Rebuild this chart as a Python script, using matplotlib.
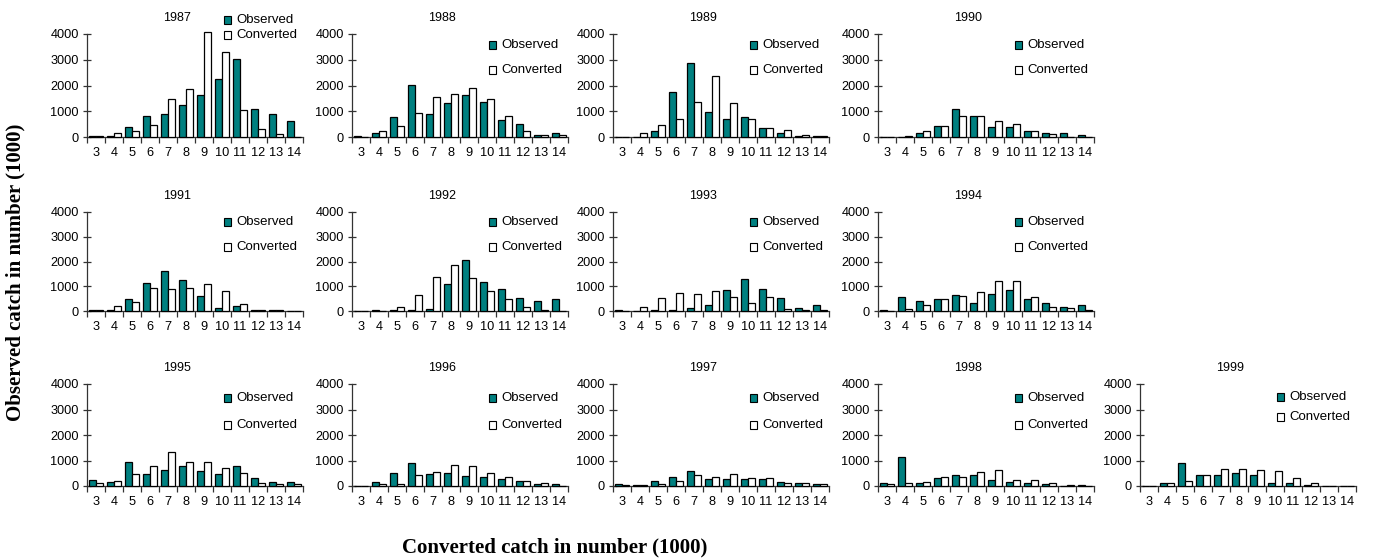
import matplotlib
matplotlib.use("Agg")
import matplotlib.pyplot as plt
from matplotlib.patches import Rectangle

plt.rcParams['font.family'] = ['Liberation Sans', 'DejaVu Sans']

ages = [3, 4, 5, 6, 7, 8, 9, 10, 11, 12, 13, 14]

obs_1987 = [50, 50, 380, 830, 880, 1250, 1620, 2250, 3040, 1100, 900, 640]
conv_1987 = [30, 150, 250, 470, 1470, 1880, 4080, 3300, 1050, 310, 100, 0]
obs_1988 = [40, 150, 770, 2020, 890, 1320, 1620, 1370, 670, 500, 90, 160]
conv_1988 = [10, 220, 410, 940, 1560, 1670, 1920, 1460, 800, 240, 90, 60]
obs_1989 = [0, 0, 250, 1730, 2880, 960, 700, 790, 350, 150, 40, 40]
conv_1989 = [0, 150, 450, 700, 1370, 2380, 1320, 700, 350, 290, 80, 40]
obs_1990 = [0, 0, 150, 430, 1100, 800, 400, 400, 250, 170, 150, 60]
conv_1990 = [0, 50, 250, 430, 800, 800, 620, 520, 230, 120, 0, 0]
obs_1991 = [50, 50, 500, 1150, 1600, 1270, 610, 120, 220, 40, 40, 0]
conv_1991 = [50, 220, 380, 920, 870, 920, 1100, 810, 280, 40, 40, 0]
obs_1992 = [0, 40, 50, 50, 100, 1100, 2060, 1160, 890, 530, 420, 480]
conv_1992 = [0, 0, 150, 630, 1370, 1850, 1320, 800, 480, 160, 50, 0]
obs_1993 = [50, 0, 40, 40, 130, 250, 840, 1310, 880, 510, 130, 250]
conv_1993 = [20, 150, 520, 730, 680, 820, 560, 310, 560, 90, 50, 40]
obs_1994 = [50, 580, 420, 480, 650, 320, 680, 860, 500, 330, 180, 230]
conv_1994 = [0, 80, 230, 480, 620, 780, 1200, 1200, 570, 150, 120, 50]
obs_1995 = [250, 170, 940, 470, 640, 780, 590, 470, 780, 320, 170, 170]
conv_1995 = [120, 210, 470, 780, 1330, 940, 940, 690, 500, 120, 80, 80]
obs_1996 = [0, 170, 500, 890, 490, 510, 400, 345, 275, 180, 80, 70]
conv_1996 = [0, 80, 80, 450, 550, 840, 790, 510, 345, 180, 120, 0]
obs_1997 = [60, 40, 200, 370, 580, 270, 270, 270, 270, 170, 115, 60]
conv_1997 = [40, 50, 80, 200, 420, 370, 470, 320, 320, 115, 115, 60]
obs_1998 = [115, 1150, 115, 320, 420, 420, 220, 170, 115, 60, 0, 50]
conv_1998 = [60, 115, 170, 370, 370, 530, 630, 220, 220, 115, 50, 0]
obs_1999 = [0, 100, 900, 430, 420, 520, 420, 100, 100, 50, 0, 0]
conv_1999 = [0, 100, 200, 430, 680, 680, 620, 600, 320, 100, 0, 0]

years = [1987, 1988, 1989, 1990, 1991, 1992, 1993, 1994,
         1995, 1996, 1997, 1998, 1999]
observed = [obs_1987, obs_1988, obs_1989, obs_1990, obs_1991, obs_1992, obs_1993,
            obs_1994, obs_1995, obs_1996, obs_1997, obs_1998, obs_1999]
converted = [conv_1987, conv_1988, conv_1989, conv_1990, conv_1991, conv_1992,
             conv_1993, conv_1994, conv_1995, conv_1996, conv_1997, conv_1998,
             conv_1999]

TEAL = '#008080'
W, H = 1375, 560
fig = plt.figure(figsize=(W / 100, H / 100), dpi=100)

col_left = [87, 352, 613, 878, 1140]
row_span = [(34, 137), (212, 311), (384, 486)]
axw = 216

# panel grid: (row, col)
slots = [(0, 0), (0, 1), (0, 2), (0, 3),
         (1, 0), (1, 1), (1, 2), (1, 3),
         (2, 0), (2, 1), (2, 2), (2, 3), (2, 4)]


def legend_rows(year, row):
    """Vertical pixel positions of the two legend entries."""
    if year == 1987:
        return 20, 35
    if year == 1999:
        return 397, 417
    return [(45, 70), (222, 247), (398, 425)][row]


for year, ob, cv, (r, c) in zip(years, observed, converted, slots):
    top, bot = row_span[r]
    left = col_left[c]
    ax = fig.add_axes([left / W, 1 - bot / H, axw / W, (bot - top) / H])
    x = list(range(len(ages)))
    bw = 0.4
    ax.bar([i - bw / 2 for i in x], ob, width=bw, color=TEAL,
           edgecolor='black', linewidth=0.9, clip_on=False, zorder=3)
    ax.bar([i + bw / 2 for i in x], cv, width=bw, color='white',
           edgecolor='black', linewidth=0.9, clip_on=False, zorder=3)
    ax.set_xlim(-0.5, len(ages) - 0.5)
    ax.set_ylim(0, 4000)
    ax.set_yticks([0, 1000, 2000, 3000, 4000])
    ax.set_xticks(x)
    ax.set_xticklabels([str(a) for a in ages])
    ax.set_xticks([i - 0.5 for i in range(len(ages) + 1)], minor=True)
    ax.tick_params(axis='x', which='major', length=0, pad=7, labelsize=9.2)
    ax.tick_params(axis='x', which='minor', length=4, direction='out',
                   width=0.9, color='#333333')
    ax.tick_params(axis='y', which='major', length=6, direction='inout',
                   width=0.9, pad=3, labelsize=9.2, color='#333333')
    for s in ('top', 'right'):
        ax.spines[s].set_visible(False)
    for s in ('left', 'bottom'):
        ax.spines[s].set_color('#333333')
        ax.spines[s].set_linewidth(0.9)
    ax.patch.set_alpha(0)

    ax.text(90 / axw, (bot - (top - 16)) / (bot - top), str(year),
            transform=ax.transAxes, ha='center', va='center', fontsize=9)

    y1, y2 = legend_rows(year, r)
    mx = (left + 137) / W
    for yy, lab, fc in ((y1, 'Observed', TEAL), (y2, 'Converted', 'white')):
        fy = 1 - yy / H
        fig.patches.append(Rectangle(
            (mx, fy - 4 / H), 7 / W, 8 / H, transform=fig.transFigure,
            facecolor=fc, edgecolor='black', linewidth=0.8, zorder=5))
        fig.text(mx + 12 / W, fy, lab, ha='left', va='center', fontsize=9.5)

fig.text(15 / W, 1 - 272 / H, 'Observed catch in number (1000)', rotation=90,
         ha='center', va='center', fontsize=15, fontweight='bold',
         family='Liberation Serif')
fig.text(555 / W, 1 - 547 / H, 'Converted catch in number (1000)',
         ha='center', va='center', fontsize=15, fontweight='bold',
         family='Liberation Serif')

fig.savefig('out.png', dpi=100, facecolor='white')
